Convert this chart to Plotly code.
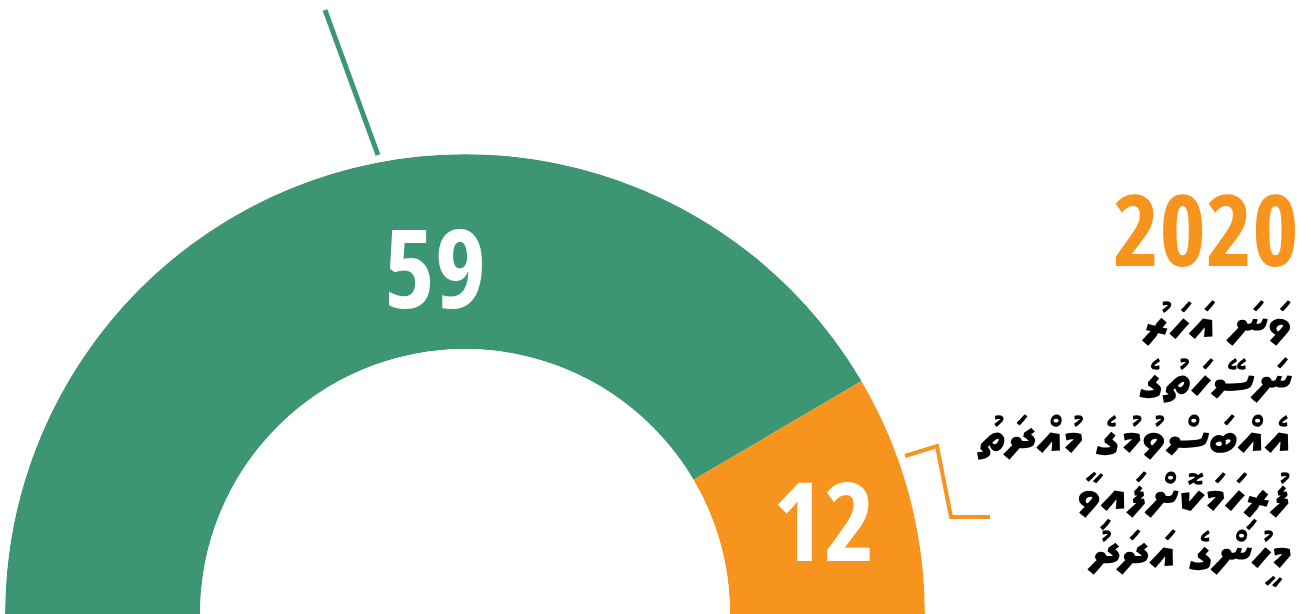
import plotly.graph_objects as go

# ---- data ----
values = [59, 12]
value_labels = ["59", "12"]
colors = ["#3C9573", "#F6941E"]
year_label = "2020"
caption_lines = [
    "ވަނަ އަހަރު",
    "ނަސޭހަތުގެ",
    "އެއްބަސްވުމުގެ މުއްދަތު",
    "ފުރިހަމަކޮށްފައިވާ",
    "މީހުންގެ އަދަދު",
]

# ---- geometry derived from data (half circle = total) ----
total = sum(values)
spans = [v / total * 180 for v in values]
starts = [sum(spans[:i]) for i in range(len(spans))]
mids = [s + w / 2 for s, w in zip(starts, spans)]

W, H = 1311, 614
HOLE = 0.576
COND = "Open Sans, sans-serif"
THAANA = "Noto Sans Thaana, MV Boli, FreeSerif, DejaVu Sans, sans-serif"


def cond(t):
    return f'<span style="font-stretch:condensed">{t}</span>'


fig = go.Figure()
fig.add_trace(go.Barpolar(
    r=[1] * len(values), theta=mids, width=spans,
    marker=dict(color=colors, line=dict(width=0)),
    hoverinfo="skip", showlegend=False,
))

# value labels
label_offsets = [10.05, 2.57]
fig.add_trace(go.Scatterpolar(
    r=[0.355, 0.528], theta=[m + o for m, o in zip(mids, label_offsets)],
    mode="text", text=[cond(t) for t in value_labels],
    textfont=dict(family=COND, size=109, color="white", weight="bold"),
    cliponaxis=False, hoverinfo="skip", showlegend=False,
))

fig.update_layout(
    width=W, height=H,
    margin=dict(l=0, r=0, t=0, b=0),
    paper_bgcolor="white", plot_bgcolor="white",
    polar=dict(
        domain=dict(x=[5 / W, 925 / W], y=[0, 460 / H]),
        sector=[0, 180], hole=HOLE, bgcolor="rgba(0,0,0,0)",
        angularaxis=dict(visible=False, rotation=180, direction="clockwise"),
        radialaxis=dict(visible=False, range=[0, 1]),
    ),
)


def px_path(points):
    return "M " + " L ".join(f"{x / W:.5f},{1 - y / H:.5f}" for x, y in points)


# leader lines (decoration, paper coordinates)
fig.add_shape(type="path", xref="paper", yref="paper",
              path=px_path([(378, 155), (325, 10)]),
              line=dict(color=colors[0], width=5))
fig.add_shape(type="path", xref="paper", yref="paper",
              path=px_path([(905, 456), (937, 446), (951, 517), (990, 517)]),
              line=dict(color=colors[1], width=4))

fig.add_annotation(
    text=cond(year_label), xref="paper", yref="paper", x=1301 / W, y=1 - 227.5 / H,
    xanchor="right", yanchor="middle", showarrow=False,
    font=dict(family=COND, size=99, color=colors[1], weight="bold"),
)
fig.add_annotation(
    text="<br>".join(f'<span style="font-size:54px">{t}</span>' for t in caption_lines),
    xref="paper", yref="paper", x=1294 / W, y=1 - 438 / H,
    xanchor="right", yanchor="middle", align="right", showarrow=False,
    font=dict(family=THAANA, size=44, color="black", weight="bold"),
)

fig.write_html("out.html", config={"displayModeBar": False},
               post_script="document.body.style.margin='0px';")
